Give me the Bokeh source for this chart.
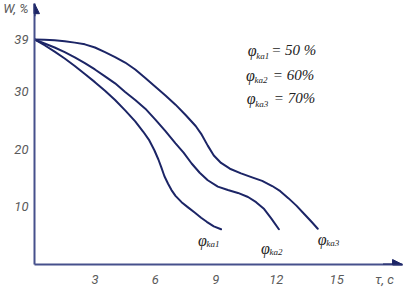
from bokeh.plotting import figure
from bokeh.models import Range1d, FixedTicker, Arrow, NormalHead, Label
from bokeh.embed import file_html
from bokeh.resources import INLINE

# ---- data ----
t_ka1 = [0, 0.5, 1.0, 1.5, 2.0, 2.5, 3.0, 3.5, 4.0, 4.5, 5.0, 5.4, 5.7, 5.95, 6.15,
         6.3, 6.45, 6.63, 6.8, 7.0, 7.3, 7.62, 7.95, 8.27, 8.55, 8.9, 9.26]
w_ka1 = [39, 38.0, 36.9, 35.7, 34.4, 33.0, 31.6, 30.1, 28.5, 26.7, 24.8, 23.0, 21.5, 19.8, 18.2,
         16.8, 15.3, 14.0, 12.9, 11.9, 10.8, 9.9, 9.0, 8.1, 7.4, 6.6, 6.1]

t_ka2 = [0, 0.5, 1.0, 1.5, 2.0, 2.5, 3.0, 3.5, 4.0, 4.5, 5.0, 5.5, 6.0, 6.5, 7.0, 7.4,
         7.8, 8.2, 8.6, 9.1, 9.6, 10.1, 10.6, 11.0, 11.4, 11.75, 12.13]
w_ka2 = [39, 38.3, 37.6, 36.8, 35.9, 34.9, 33.8, 32.6, 31.4, 29.9, 28.5, 27.0, 25.1, 23.1, 21.0, 19.4,
         17.5, 15.9, 14.6, 13.5, 12.9, 12.4, 11.7, 10.8, 9.6, 8.0, 6.1]

t_ka3 = [0, 0.5, 1.0, 1.5, 2.0, 2.5, 3.0, 3.5, 4.0, 4.5, 5.0, 5.5, 6.0, 6.5, 7.0, 7.5,
         8.0, 8.3, 8.6, 8.9, 9.26, 9.7, 10.25, 10.8, 11.3, 11.8, 12.2, 12.6, 13.0, 13.4, 13.75, 14.06]
w_ka3 = [39, 38.95, 38.85, 38.7, 38.45, 38.15, 37.6, 36.8, 35.95, 35.0, 33.8, 32.3, 30.8, 29.3, 27.7, 25.9,
         24.0, 22.5, 20.6, 18.9, 17.6, 16.6, 15.8, 15.1, 14.5, 13.6, 12.7, 11.5, 10.2, 8.7, 7.4, 6.2]

x_ticks = [3, 6, 9, 12, 15]
y_ticks = [10, 20, 30, 39]
x_title = "τ,  c"
y_title = "W, %"
series_names = ["ka1", "ka2", "ka3"]
humidity = ["= 50 %", "= 60%", "= 70%"]

NAVY = "#1c2566"
AXIS = "#46508c"
TICK_TXT = "#5a5a5a"
TXT = "#222222"

# axis titles sit in the tick-label rows (next to the arrow heads)
X_TITLE_AT = 17.45
Y_TITLE_AT = 44.4

p = figure(width=420, height=296, output_backend="svg", toolbar_location=None,
           x_range=Range1d(0, 19.16), y_range=Range1d(0, 45.75),
           min_border_left=33, min_border_bottom=32, min_border_top=0, min_border_right=0)
p.outline_line_color = None
p.grid.visible = False
p.background_fill_color = "white"

for ax, ticks, bnds, tpos, ttl in ((p.xaxis, x_ticks, (0, 18.27), X_TITLE_AT, x_title),
                                    (p.yaxis, y_ticks, (0, 45.2), Y_TITLE_AT, y_title)):
    ax.ticker = FixedTicker(ticks=list(ticks) + [tpos])
    ax.major_label_overrides = {tpos: ttl}
    ax.bounds = bnds
    ax.axis_line_color = AXIS
    ax.axis_line_width = 2
    ax.major_tick_in = 0
    ax.major_tick_out = 0
    ax.minor_tick_line_color = None
    ax.major_label_text_font = "Roboto"
    ax.major_label_text_font_style = "italic"
    ax.major_label_text_font_size = "13px"
    ax.major_label_text_color = TICK_TXT
p.yaxis.major_label_standoff = 6
p.xaxis.major_label_standoff = 7

# arrow heads on axes
p.add_layout(Arrow(end=NormalHead(size=10, fill_color=NAVY, line_color=NAVY),
                   x_start=0, y_start=43.0, x_end=0, y_end=45.2,
                   line_color=NAVY, line_width=2))
p.add_layout(Arrow(end=NormalHead(size=10, fill_color=NAVY, line_color=NAVY),
                   x_start=17.3, y_start=0, x_end=18.27, y_end=0,
                   line_color=NAVY, line_width=2))

for tx, wy in ((t_ka1, w_ka1), (t_ka2, w_ka2), (t_ka3, w_ka3)):
    p.line(tx, wy, line_color=NAVY, line_width=2, line_join="round", line_cap="round")

def lab(x, y, text, size, font="Liberation Serif", color=TXT, style="italic"):
    p.add_layout(Label(x=x, y=y, text=text, text_font=font, text_font_style=style,
                       text_font_size=size, text_color=color, text_baseline="middle",
                       text_align="left"))

# legend block
leg_pos = [(10.59, 37.1, 11.01, 36.2, 11.75), (10.50, 32.8, 10.92, 31.9, 11.83),
           (10.54, 28.8, 10.96, 27.9, 11.88)]
for (px, py, sx, sy, ex), nm, hv in zip(leg_pos, series_names, humidity):
    lab(px, py, "φ", "16px")
    lab(sx, sy, nm, "9px")
    lab(ex, py, hv, "15px")

# curve end labels
end_pos = [(8.12, 4.16, 8.54, 3.5), (11.24, 2.77, 11.66, 2.1), (14.06, 4.33, 14.48, 3.7)]
for (px, py, sx, sy), nm in zip(end_pos, series_names):
    lab(px, py, "φ", "16px")
    lab(sx, sy, nm, "9px")

open("out.html", "w").write(file_html(p, INLINE))
